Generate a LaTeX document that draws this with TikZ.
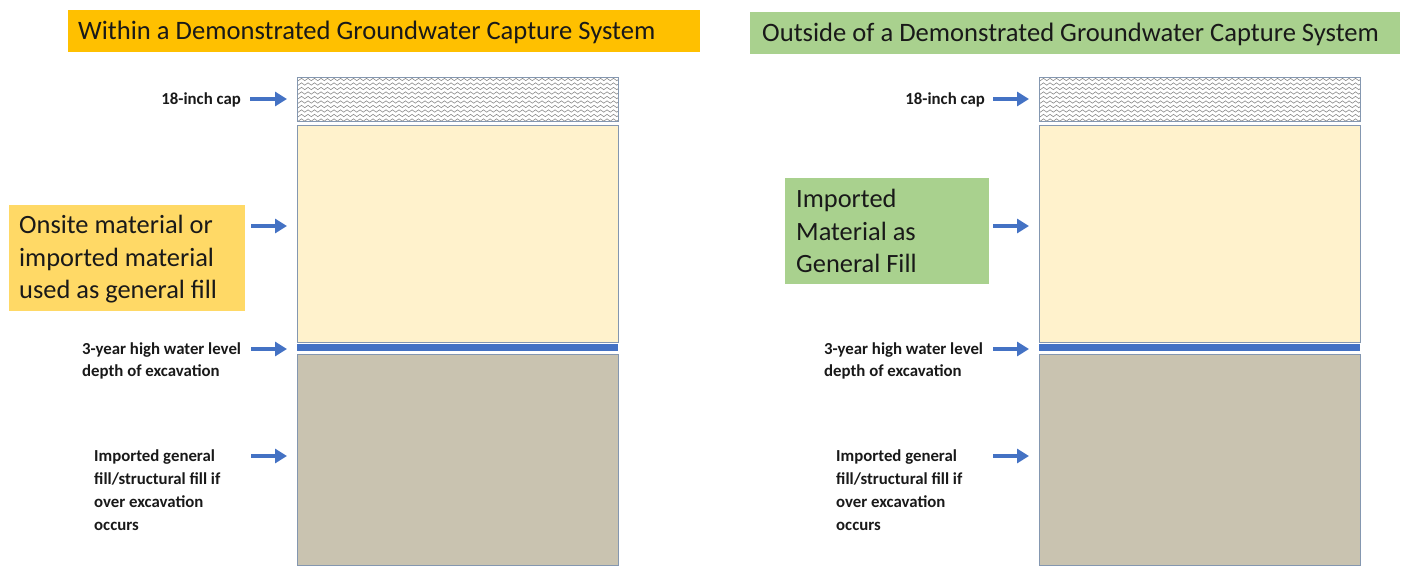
\documentclass[tikz,border=0pt]{standalone}
\usepackage{fontspec}
\setmainfont{Carlito}
\usetikzlibrary{arrows.meta,decorations.pathmorphing}
\definecolor{titleorange}{HTML}{FFC000}
\definecolor{titlegreen}{HTML}{A9D18E}
\definecolor{boxorange}{HTML}{FFD966}
\definecolor{fillyellow}{HTML}{FFF2CC}
\definecolor{filltan}{HTML}{C9C3B0}
\definecolor{bandblue}{HTML}{4472C4}
\definecolor{edgegray}{HTML}{8497B0}
\definecolor{wavegray}{HTML}{8C8C8C}
\tikzset{
  layer/.style={draw=edgegray, line width=0.9pt, inner sep=0pt, outer sep=0pt},
  bluearrow/.style={draw=bandblue, line width=4pt, -{Triangle[length=12pt,width=14pt]}},
  smalllabel/.style={font=\fontsize{16.8}{22.7}\selectfont\bfseries, inner sep=0pt, text=black!90},
  titletext/.style={font=\fontsize{26.6}{30}\selectfont, inner sep=0pt, text=black!90},
  bigtext/.style={font=\fontsize{26.4}{32.5}\selectfont, inner sep=0pt, align=left, text=black!90},
}
\begin{document}
\begin{tikzpicture}[x=1pt,y=-1pt]
\useasboundingbox (0,0) rectangle (1409,571);
% titles
\fill[titleorange] (68,10) rectangle (700,52);
\node[titletext, anchor=west] (t1) at (78,32) {Within a Demonstrated Groundwater Capture System};
\fill[titlegreen] (750,12) rectangle (1400,54);
\node[titletext, anchor=west] (t2) at (762,34) {Outside of a Demonstrated Groundwater Capture System};

% columns
\foreach \ox/\nm in {297/L,1039/R}{
  \begin{scope}[shift={(\ox,0)}]
    % cap
    \begin{scope}
      \clip (0,77) rectangle (321,121);
      \fill[white] (0,77) rectangle (321,121);
      \foreach \yy in {79.5,84,...,122}{
        \draw[wavegray, line width=0.6pt, decorate, decoration={snake, amplitude=1.2pt, segment length=6.5pt}] (-4,\yy) -- (326,\yy);
      }
    \end{scope}
    \node[layer, minimum width=321pt, minimum height=44pt, anchor=north west] (cap\nm) at (0,77) {};
    \node[layer, fill=fillyellow, minimum width=321pt, minimum height=217pt, anchor=north west] (fill\nm) at (0,125) {};
    \fill[bandblue] (0,344) rectangle (321,351);
    \coordinate (band\nm) at (0,347.5);
    \node[layer, fill=filltan, minimum width=321pt, minimum height=211pt, anchor=north west] (base\nm) at (0,354) {};
    % arrow tips
    \coordinate (tcap\nm) at (-10,99);
    \coordinate (tfill\nm) at (-10,226);
    \coordinate (tband\nm) at (-10,349);
    \coordinate (tbase\nm) at (-10,456);
  \end{scope}
}

% left labels
\node[smalllabel, anchor=east] (capLab) at (241,100) {18-inch cap};
\node[fill=boxorange, minimum width=236pt, minimum height=106pt, anchor=north west, inner sep=0pt] (boxL) at (9,205) {};
\node[bigtext, anchor=north west] (boxLt) at (19,215) {Onsite material or\\imported material\\used as general fill};
\node[smalllabel, anchor=west] (bandLab) at (82,350) {3-year high water level};
\node[smalllabel, anchor=west] (bandLab2) at (82,372) {depth of excavation};
\node[smalllabel, anchor=north west, align=left] (baseLab) at (94,450) {Imported general\\fill/structural fill if\\over excavation\\occurs};
\coordinate (sCapL) at (250,99);
\coordinate (sFillL) at (251,226);
\coordinate (sBandL) at (251,349);
\coordinate (sBaseL) at (251,456);
\draw[bluearrow] (sCapL) -- (tcapL);
\draw[bluearrow] (sFillL) -- (tfillL);
\draw[bluearrow] (sBandL) -- (tbandL);
\draw[bluearrow] (sBaseL) -- (tbaseL);

% right labels
\node[smalllabel, anchor=east] (capLabR) at (985,100) {18-inch cap};
\node[fill=titlegreen, minimum width=204pt, minimum height=106pt, anchor=north west, inner sep=0pt] (boxR) at (785,178) {};
\node[bigtext, anchor=north west] (boxRt) at (796,189) {Imported\\Material as\\General Fill};
\node[smalllabel, anchor=west] (bandLabR) at (824,350) {3-year high water level};
\node[smalllabel, anchor=west] (bandLabR2) at (824,372) {depth of excavation};
\node[smalllabel, anchor=north west, align=left] (baseLabR) at (836,450) {Imported general\\fill/structural fill if\\over excavation\\occurs};
\coordinate (sCapR) at (993,99);
\coordinate (sFillR) at (993,226);
\coordinate (sBandR) at (993,349);
\coordinate (sBaseR) at (993,456);
\draw[bluearrow] (sCapR) -- (tcapR);
\draw[bluearrow] (sFillR) -- (tfillR);
\draw[bluearrow] (sBandR) -- (tbandR);
\draw[bluearrow] (sBaseR) -- (tbaseR);
\end{tikzpicture}
\end{document}
